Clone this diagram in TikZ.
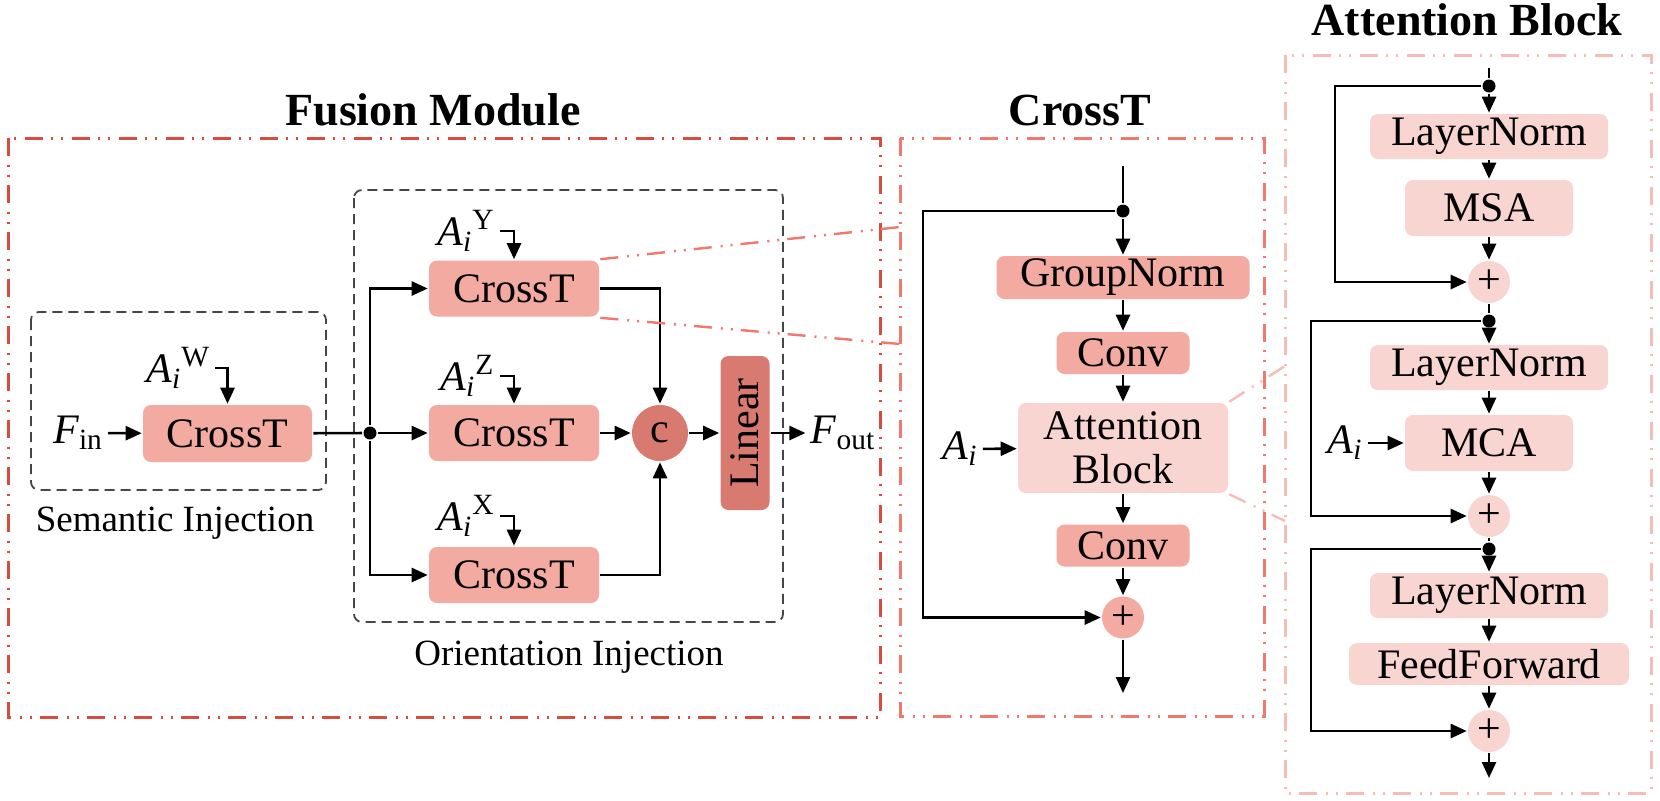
\documentclass[tikz,border=0pt]{standalone}
\usepackage{fontspec}
\setmainfont{Liberation Serif}
\usetikzlibrary{arrows.meta}

\definecolor{crossfill}{RGB}{243,170,160}
\definecolor{darkfill}{RGB}{217,122,112}
\definecolor{palefill}{RGB}{249,213,210}
\definecolor{fusionred}{RGB}{214,76,62}
\definecolor{crossred}{RGB}{240,120,108}
\definecolor{attnpink}{RGB}{246,188,183}
\definecolor{injgray}{RGB}{70,70,70}

\newcommand{\boxfont}{\fontsize{21}{22}\selectfont}
\newcommand{\labfont}{\fontsize{18.5}{21}\selectfont}
\newcommand{\titfont}{\fontsize{23}{26}\selectfont\bfseries}
\newcommand{\Aup}[1]{\textit{A}\textsubscript{\textit{i}}\textsuperscript{#1}}

\tikzset{
  blk/.style={rectangle, rounded corners=4pt, inner sep=0pt, font=\boxfont},
  crossblk/.style={blk, fill=crossfill},
  attnblk/.style={blk, fill=palefill},
  sumnode/.style={circle, inner sep=0pt, minimum size=21pt, font=\boxfont},
  joint/.style={circle, fill=black, inner sep=0pt, minimum size=6.5pt},
  lbl/.style={inner sep=2pt, font=\boxfont},
  modframe/.style={line width=1.5pt, dash pattern=on 9pt off 4.5pt on 1pt off 4pt on 1pt off 4pt},
  zoomline/.style={line width=1.2pt, dash pattern=on 9pt off 4.5pt on 1pt off 4pt on 1pt off 4pt},
  injbox/.style={draw=injgray, line width=0.9pt, dash pattern=on 5pt off 3pt, rounded corners=4pt}
}

\begin{document}
\begin{tikzpicture}[x=0.5pt, y=-0.5pt, line width=1.3pt, >={Triangle[length=8pt,width=7pt]}]
\useasboundingbox (0,0) rectangle (1660,800);

% FRAMES
\draw[modframe, fusionred] (8,138) rectangle (880,717);
\draw[modframe, crossred] (900,138) rectangle (1264,716);
\draw[modframe, attnpink] (1285,55) rectangle (1651,793);
\node[font=\titfont, anchor=base] (tfus) at (433,125) {Fusion Module};
\node[font=\titfont, anchor=base] (tcross) at (1080,125) {CrossT};
\node[font=\titfont, anchor=base] (tattn) at (1467,35) {Attention Block};

% FUSION MODULE
\draw[injbox] (31,312) rectangle (326,490);
\draw[injbox] (354,190) rectangle (783,622);
\node[font=\labfont, anchor=base] (lsem) at (175,531) {Semantic Injection};
\node[font=\labfont, anchor=base] (lori) at (569,665) {Orientation Injection};

\node[lbl] (fin) at (78,433) {\textit{F}\textsubscript{in}};
\node[crossblk, minimum width=84.5pt, minimum height=28.5pt] (csem) at (227.5,433.5) {CrossT};
\node[lbl, anchor=base west] (aW) at (141,382) {\Aup{W}};
\node[joint] (j1) at (370,433) {};

\node[crossblk, minimum width=85pt, minimum height=28pt] (ctY) at (514,288.5) {CrossT};
\node[crossblk, minimum width=85pt, minimum height=28pt] (ctZ) at (514,433) {CrossT};
\node[crossblk, minimum width=85pt, minimum height=28pt] (ctX) at (514,575) {CrossT};
\node[lbl, anchor=base west] (aY) at (432,245) {\Aup{Y}};
\node[lbl, anchor=base west] (aZ) at (435,390) {\Aup{Z}};
\node[lbl, anchor=base west] (aX) at (432,530) {\Aup{X}};
\node[sumnode, fill=darkfill, minimum size=28pt] (cat) at (660,433) {c};
\node[blk, fill=darkfill, rotate=90, minimum width=77pt, minimum height=24.5pt] (lin) at (745,433) {Linear};
\node[lbl] (fout) at (843,433) {\textit{F}\textsubscript{out}};

\draw[->] (fin) -- (csem);
\draw[->] (aW.east) -| (csem);
\draw (csem) -- (j1);
\draw[->] (j1) -- (ctZ);
\draw[->] (j1) |- (ctY);
\draw[->] (j1) |- (ctX);
\draw[->] (aY.east) -| (ctY);
\draw[->] (aZ.east) -| (ctZ);
\draw[->] (aX.east) -| (ctX);
\draw[->] (ctY) -| (cat);
\draw[->] (ctX) -| (cat);
\draw[->] (ctZ) -- (cat);
\draw[->] (cat) -- (lin);
\draw[->] (lin) -- (fout);

% CROSST
\coordinate (zt) at (900,227);
\coordinate (zb) at (900,344);
\draw[zoomline, crossred] (ctY.north east) -- (zt);
\draw[zoomline, crossred] (ctY.south east) -- (zb);

\coordinate (cin) at (1123,166);
\node[joint] (cdot) at (1123,211) {};
\node[crossblk, minimum width=126.5pt, minimum height=21.5pt] (gn) at (1123,277.5) {GroupNorm};
\node[crossblk, minimum width=66.5pt, minimum height=21pt] (cv1) at (1123,353) {Conv};
\node[attnblk, align=center, minimum width=105pt, minimum height=45pt] (ab) at (1123,448) {Attention\\Block};
\node[crossblk, minimum width=66.5pt, minimum height=21pt] (cv2) at (1123,545.5) {Conv};
\node[sumnode, fill=crossfill] (cplus) at (1123,617.5) {+};
\coordinate (cout) at (1123,693);
\node[lbl] (aci) at (960,449) {\textit{A}\textsubscript{\textit{i}}};

\draw (cin) -- (cdot);
\draw[->] (cdot) -- (gn);
\draw[->] (gn) -- (cv1);
\draw[->] (cv1) -- (ab);
\draw[->] (ab) -- (cv2);
\draw[->] (cv2) -- (cplus);
\draw[->] (cplus) -- (cout);
\draw[->] (aci) -- (ab);
\draw[->] (cdot) -- ++(-200,0) |- (cplus);

% ATTENTION BLOCK
\coordinate (at) at (1285,366);
\coordinate (ab2) at (1285,521);
\draw[zoomline, attnpink] (ab.north east) -- (at);
\draw[zoomline, attnpink] (ab.south east) -- (ab2);

\coordinate (ain) at (1489,68);
\node[joint] (d1) at (1489,86) {};
\node[attnblk, minimum width=119pt, minimum height=22.5pt] (ln1) at (1489,136.5) {LayerNorm};
\node[attnblk, minimum width=84pt, minimum height=28pt] (msa) at (1489,208) {MSA};
\node[sumnode, fill=palefill] (p1) at (1489,282) {+};
\node[joint] (d2) at (1489,321) {};
\node[attnblk, minimum width=119pt, minimum height=22.5pt] (ln2) at (1489,367.5) {LayerNorm};
\node[attnblk, minimum width=84pt, minimum height=28pt] (mca) at (1489,443) {MCA};
\node[lbl] (ami) at (1345,443) {\textit{A}\textsubscript{\textit{i}}};
\node[sumnode, fill=palefill] (p2) at (1489,516) {+};
\node[joint] (d3) at (1489,549) {};
\node[attnblk, minimum width=119pt, minimum height=22.5pt] (ln3) at (1489,595.5) {LayerNorm};
\node[attnblk, minimum width=140pt, minimum height=21pt] (ff) at (1489,664) {FeedForward};
\node[sumnode, fill=palefill] (p3) at (1489,731) {+};
\coordinate (aout) at (1489,778);

\draw (ain) -- (d1);
\draw[->] (d1) -- (ln1);
\draw[->] (ln1) -- (msa);
\draw[->] (msa) -- (p1);
\draw (p1) -- (d2);
\draw[->] (d2) -- (ln2);
\draw[->] (ln2) -- (mca);
\draw[->] (ami) -- (mca);
\draw[->] (mca) -- (p2);
\draw (p2) -- (d3);
\draw[->] (d3) -- (ln3);
\draw[->] (ln3) -- (ff);
\draw[->] (ff) -- (p3);
\draw[->] (p3) -- (aout);
\draw[->] (d1) -- ++(-154,0) |- (p1);
\draw[->] (d2) -- ++(-178,0) |- (p2);
\draw[->] (d3) -- ++(-178,0) |- (p3);
\end{tikzpicture}
\end{document}
